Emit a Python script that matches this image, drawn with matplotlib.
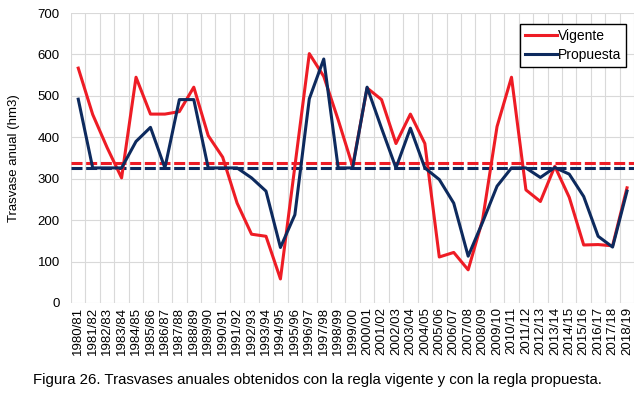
import matplotlib.pyplot as plt

plt.rcParams['font.family'] = ['Liberation Sans', 'DejaVu Sans']

# Hydrological years
years = ["1980/81", "1981/82", "1982/83", "1983/84", "1984/85", "1985/86", "1986/87",
         "1987/88", "1988/89", "1989/90", "1990/91", "1991/92", "1992/93", "1993/94",
         "1994/95", "1995/96", "1996/97", "1997/98", "1998/99", "1999/00", "2000/01",
         "2001/02", "2002/03", "2003/04", "2004/05", "2005/06", "2006/07", "2007/08",
         "2008/09", "2009/10", "2010/11", "2011/12", "2012/13", "2013/14", "2014/15",
         "2015/16", "2016/17", "2017/18", "2018/19"]

# Annual transfers (hm3)
vigente = [567, 455, 375, 302, 545, 456, 456, 462, 521, 404, 352, 241, 166, 161, 58,
           330, 602, 547, 442, 330, 519, 491, 385, 456, 385, 111, 122, 80, 201, 426,
           545, 273, 245, 330, 255, 140, 141, 138, 278]
propuesta = [492, 326, 326, 326, 390, 424, 326, 491, 491, 326, 326, 326, 302, 270, 134,
             213, 493, 589, 326, 326, 521, 422, 326, 422, 326, 298, 241, 113, 195, 282,
             326, 326, 303, 327, 311, 257, 161, 135, 270]

# Mean values (dashed)
vigente_mean = 339
propuesta_mean = 327

RED = "#EE1C25"
NAVY = "#0D2A5E"

fig = plt.figure(figsize=(6.4, 3.95), dpi=100)
ax = fig.add_axes([0.111, 0.233, 0.880, 0.734])

x = range(len(years))
ax.plot(x, vigente, color=RED, linewidth=2.2, label="Vigente", zorder=3)
ax.plot(x, propuesta, color=NAVY, linewidth=2.2, label="Propuesta", zorder=3)
ax.axhline(vigente_mean, color=RED, linewidth=2.2, linestyle=(0, (3.6, 1.2)), zorder=2)
ax.axhline(propuesta_mean, color=NAVY, linewidth=2.2, linestyle=(0, (3.6, 1.2)), zorder=2)

ax.set_xlim(-0.5, len(years) - 0.5)
ax.set_ylim(0, 700)
ax.set_yticks(range(0, 701, 100))
ax.set_xticks(list(x))
ax.set_xticklabels(years, rotation=90, fontsize=9.5)
ax.tick_params(axis='y', labelsize=9.5, length=0, pad=8)
ax.tick_params(axis='x', length=0, pad=3)
ax.set_ylabel("Trasvase anual (hm3)", fontsize=9.5, labelpad=13)

# gridlines: horizontal at ticks, vertical at category boundaries
for yv in range(100, 701, 100):
    ax.axhline(yv, color="#D9D9D9", linewidth=0.8, zorder=1)
for xv in [i - 0.5 for i in range(len(years) + 1)]:
    ax.axvline(xv, color="#D9D9D9", linewidth=0.8, zorder=1)
for s in ax.spines.values():
    s.set_visible(False)
ax.axhline(0, color="#D9D9D9", linewidth=0.8, zorder=1)

leg = ax.legend(loc="upper right", bbox_to_anchor=(0.986, 0.962), fontsize=10,
                frameon=True, fancybox=False, handlelength=2.3, handletextpad=0.1,
                borderpad=0.35, labelspacing=0.35, borderaxespad=0)
leg.get_frame().set_edgecolor("black")
leg.get_frame().set_linewidth(1.0)
leg.get_frame().set_alpha(1)

fig.text(0.052, 0.038, "Figura 26. Trasvases anuales obtenidos con la regla vigente y con la regla propuesta.",
         fontsize=10.8, ha="left", va="center")

fig.savefig("out.png", dpi=100)
